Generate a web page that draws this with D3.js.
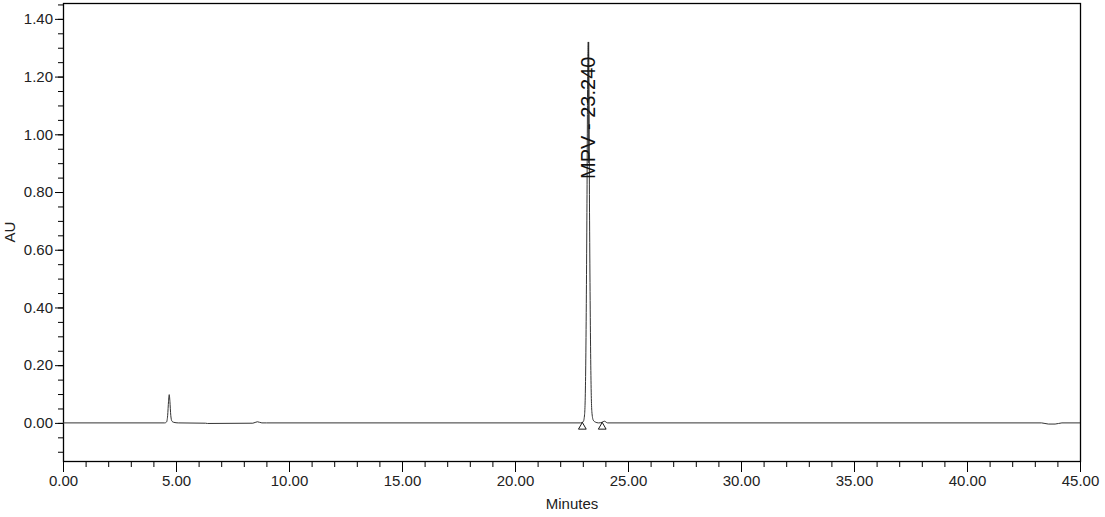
<!DOCTYPE html>
<html>
<head>
<meta charset="utf-8">
<script src="https://cdn.jsdelivr.net/npm/d3@7"></script>
<style>
  body { margin: 0; background: #fff; }
  text { font-family: "Liberation Sans", Arial, sans-serif; }
</style>
</head>
<body>
<div id="chromatogram"></div>
<script>
// trace: minutes / AU
var times  = [0, 4.50, 4.58, 4.63, 4.67, 4.70, 4.73, 4.77, 4.82, 4.90, 5.10, 6.30, 6.40, 8.40, 8.60, 8.80, 9.00,
              22.90, 23.02, 23.08, 23.13, 23.18, 23.215, 23.24, 23.265, 23.30, 23.35, 23.40, 23.46, 23.55, 23.70,
              23.85, 23.95, 24.10, 43.30, 43.60, 43.90, 44.20, 45.00];
var values = [0, 0, 0.003, 0.025, 0.075, 0.098, 0.075, 0.025, 0.006, 0.002, 0, -0.001, -0.002, -0.001, 0.004, 0, 0,
              0, 0.004, 0.03, 0.2, 0.7, 1.2, 1.32, 1.2, 0.7, 0.22, 0.04, 0.01, 0.003, 0,
              0.002, 0.006, 0, 0, -0.004, -0.004, 0, 0];

// integration marks (peak start / end)
var markTimes = [22.98, 23.86];

// peak label
var peakName = "MPV";
var peakTime = 23.240;
var peakHeight = 1.32;

var xMajorTicks = [0, 5, 10, 15, 20, 25, 30, 35, 40, 45];
var yMajorTicks = [0, 0.2, 0.4, 0.6, 0.8, 1.0, 1.2, 1.4];

var w = 1105, h = 517;
var plotLeft = 63, plotRight = 1080, plotTop = 3, plotBottom = 461;

var x = d3.scaleLinear().domain([0, 45]).range([plotLeft, plotRight]);
var y = d3.scaleLinear().domain([-0.132, 1.455]).range([plotBottom, plotTop]);

var svg = d3.select("#chromatogram").append("svg")
    .attr("width", w)
    .attr("height", h);

// x axis: minor every minute, major every 5
svg.append("g")
    .attr("transform", "translate(0," + plotBottom + ")")
    .call(d3.axisBottom(x).tickValues(d3.range(0, 46, 1)).tickSize(6).tickFormat(""))
    .call(function(g) { g.select(".domain").remove(); });

svg.append("g")
    .attr("transform", "translate(0," + plotBottom + ")")
    .call(d3.axisBottom(x).tickValues(xMajorTicks).tickSize(11).tickPadding(3).tickFormat(d3.format(".2f")))
    .call(function(g) { g.select(".domain").remove(); });

// y axis: minor every 0.05, major every 0.2
svg.append("g")
    .attr("transform", "translate(" + plotLeft + ",0)")
    .call(d3.axisLeft(y).tickValues(d3.range(-0.10, 1.46, 0.05)).tickSize(5).tickFormat(""))
    .call(function(g) { g.select(".domain").remove(); });

svg.append("g")
    .attr("transform", "translate(" + plotLeft + ",0)")
    .call(d3.axisLeft(y).tickValues(yMajorTicks).tickSize(8).tickPadding(2).tickFormat(d3.format(".2f")))
    .call(function(g) { g.select(".domain").remove(); });

svg.selectAll(".tick line").attr("stroke", "#000");
svg.selectAll(".tick text").attr("font-size", "15px").attr("fill", "#222")
    .attr("font-family", "'Liberation Sans', Arial, sans-serif");

// frame
svg.append("rect")
    .attr("x", plotLeft + 0.5)
    .attr("y", plotTop + 0.5)
    .attr("width", plotRight - plotLeft)
    .attr("height", plotBottom - plotTop)
    .attr("fill", "none")
    .attr("stroke", "#000")
    .attr("stroke-width", 1.3);

// trace
var line = d3.line()
    .x(function(d) { return x(d[0]); })
    .y(function(d) { return y(d[1]); })
    .curve(d3.curveMonotoneX);

svg.append("path")
    .datum(d3.zip(times, values))
    .attr("d", line)
    .attr("fill", "none")
    .attr("stroke", "#333")
    .attr("stroke-width", 1);

// start / end triangles
svg.selectAll(".mark")
    .data(markTimes)
    .enter()
    .append("path")
    .attr("class", "mark")
    .attr("d", d3.symbol().type(d3.symbolTriangle).size(26))
    .attr("transform", function(d) { return "translate(" + x(d) + "," + (y(0) + 4) + ")"; })
    .attr("fill", "none")
    .attr("stroke", "#000")
    .attr("stroke-width", 0.9);

// peak label, rotated up along the apex
svg.append("text")
    .attr("transform", "translate(" + (x(peakTime) + 7) + "," + (y(0) - 244) + ") rotate(-90)")
    .attr("font-size", "20px")
    .attr("fill", "#111")
    .text(peakName + " - " + peakTime.toFixed(3));

// line continuing above apex region through the label
svg.append("line")
    .attr("x1", x(peakTime) + 0.5)
    .attr("x2", x(peakTime) + 0.5)
    .attr("y1", y(peakHeight))
    .attr("y2", y(0.9))
    .attr("stroke", "#222")
    .attr("stroke-width", 1);

// axis titles
svg.append("text")
    .attr("x", (plotLeft + plotRight) / 2 + 0.5)
    .attr("y", 509)
    .attr("text-anchor", "middle")
    .attr("font-size", "15px")
    .attr("fill", "#222")
    .text("Minutes");

svg.append("text")
    .attr("transform", "translate(15," + ((plotTop + plotBottom) / 2) + ") rotate(-90)")
    .attr("text-anchor", "middle")
    .attr("font-size", "15px")
    .attr("fill", "#222")
    .text("AU");
</script>
</body>
</html>
